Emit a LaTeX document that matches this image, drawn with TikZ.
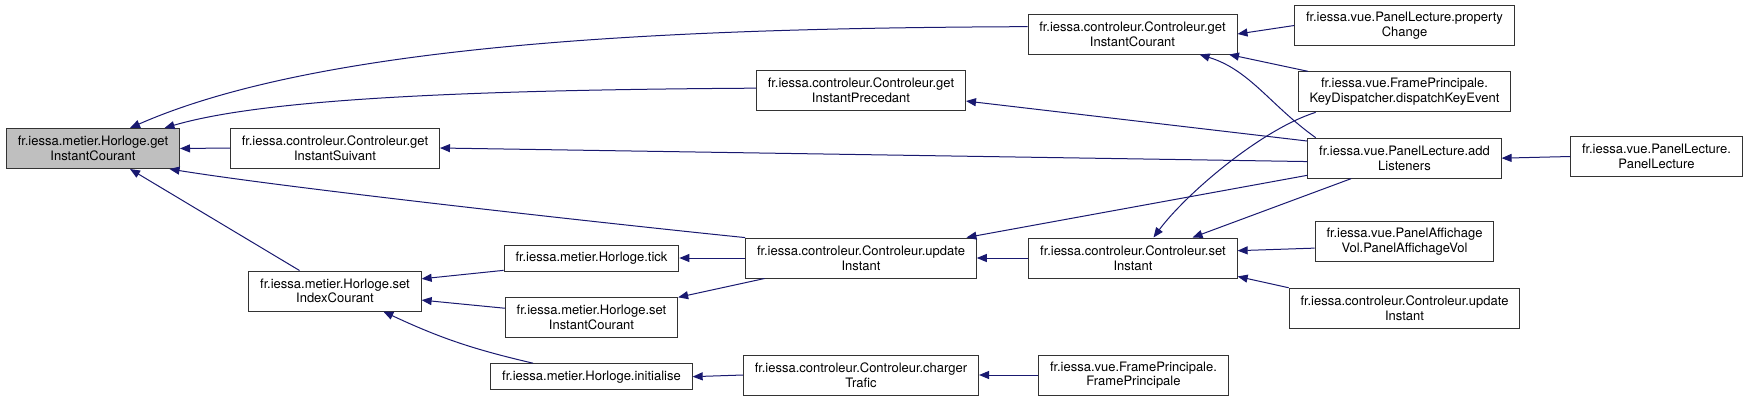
\documentclass[tikz,border=0pt]{standalone}
\usepackage{fontspec}
\setmainfont{TeX Gyre Heros}
\usepackage{tikz}
\usetikzlibrary{arrows.meta, positioning}
\definecolor{navy}{HTML}{191970}

\begin{document}
\begin{tikzpicture}[x=0.75pt, y=-0.75pt, font=\fontsize{9.75pt}{11pt}\selectfont,
    >={Triangle[length=7.5pt, width=6pt]}, node distance=19pt,
    fn/.style={draw=black!80, line width=0.75pt, fill=white, minimum height=30pt, inner xsep=8.5pt, inner ysep=2pt, align=center},
    short/.style={minimum height=19.5pt},
    call/.style={->, draw=navy, fill=none, line width=0.75pt}]
    \useasboundingbox[fill=white] (0,0) rectangle (1749,401);
    \node[fn, fill=black!25] (root) at (93,148.5) {fr.iessa.metier.Horloge.get\\InstantCourant};
    \node[fn] (suivant) at (335,148) {fr.iessa.controleur.Controleur.get\\InstantSuivant};
    \node[fn] (setidx) at (335,291) {fr.iessa.metier.Horloge.set\\IndexCourant};
    \node[fn, short] (tick) at (591.5,258) {fr.iessa.metier.Horloge.tick};
    \node[fn, below=of tick] (setcour) {fr.iessa.metier.Horloge.set\\InstantCourant};
    \node[fn, short, below=of setcour] (init) {fr.iessa.metier.Horloge.initialise};
    \node[fn] (precedant) at (861,90) {fr.iessa.controleur.Controleur.get\\InstantPrecedant};
    \node[fn] (update) at (861,258) {fr.iessa.controleur.Controleur.update\\Instant};
    \node[fn] (charger) at (861,375) {fr.iessa.controleur.Controleur.charger\\Trafic};
    \node[fn] (ctrlget) at (1132.5,34) {fr.iessa.controleur.Controleur.get\\InstantCourant};
    \node[fn] (ctrlset) at (1133,258) {fr.iessa.controleur.Controleur.set\\Instant};
    \node[fn] (frame) at (1133.5,375) {fr.iessa.vue.FramePrincipale.\\FramePrincipale};
    \node[fn] (propchg) at (1404.5,25.5) {fr.iessa.vue.PanelLecture.property\\Change};
    \node[fn, below=of propchg] (dispatch) {fr.iessa.vue.FramePrincipale.\\KeyDispatcher.dispatchKeyEvent};
    \node[fn, below=of dispatch] (addlst) {fr.iessa.vue.PanelLecture.add\\Listeners};
    \node[fn, below=32pt of addlst] (panelaff) {fr.iessa.vue.PanelAffichage\\Vol.PanelAffichageVol};
    \node[fn, below=of panelaff] (update2) {fr.iessa.controleur.Controleur.update\\Instant};
    \node[fn] (panellect) at (1656.5,156.5) {fr.iessa.vue.PanelLecture.\\PanelLecture};
    \draw[call] (ctrlget.176) .. controls (700,28) and (330,40) .. (root.29);
    \draw[call] (precedant.179) .. controls (450,90) and (260,100) .. (root.16);
    \draw[call] (suivant.west) -- (root.east);
    \draw[call] (update.170) .. controls (650,228) and (300,190) .. (root.-15);
    \draw[call] (setidx.150) -- (root.-29);
    \draw[call] (tick.188) -- (setidx.8);
    \draw[call] (setcour.174) -- (setidx.-6);
    \draw[call] (init.167) to[bend left=6] (setidx.-23);
    \draw[call] (update.west) -- (tick.east);
    \draw[call] (update.-168) -- (setcour.13);
    \draw[call] (charger.west) -- (init.east);
    \draw[call] (frame.west) -- (charger.east);
    \draw[call] (ctrlset.west) -- (update.east);
    \draw[call] (addlst.190) -- (update.11);
    \draw[call] (addlst.170) -- (precedant.-6);
    \draw[call] (addlst.182) -- (suivant.east);
    \draw[call] (addlst.167) .. controls (1270,105) and (1250,70) .. (ctrlget.-17);
    \draw[call] (dispatch.168) -- (ctrlget.-12);
    \draw[call] (propchg.west) -- (ctrlget.east);
    \draw[call] (dispatch.-167) .. controls (1260,130) and (1185,195) .. (ctrlset.45);
    \draw[call] (addlst.-159) -- (ctrlset.19);
    \draw[call] (panellect.west) -- (addlst.east);
    \draw[call] (panelaff.184) -- (ctrlset.4);
    \draw[call] (update2.170) -- (ctrlset.-10);
\end{tikzpicture}
\end{document}
